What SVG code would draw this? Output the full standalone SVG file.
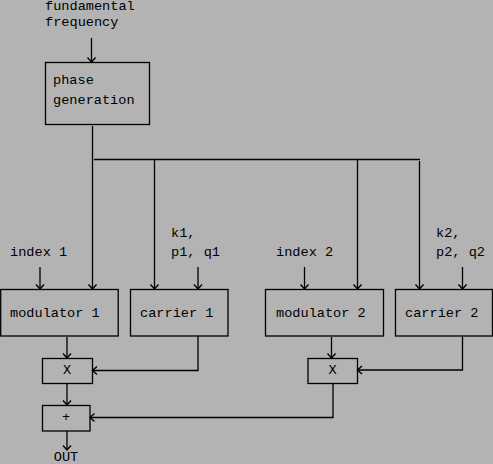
<svg xmlns="http://www.w3.org/2000/svg" width="493" height="464" viewBox="0 0 493 464">
<defs>
<marker id="ah" markerWidth="12" markerHeight="12" viewBox="-6 -6 12 12" refX="0" refY="0" orient="auto" markerUnits="userSpaceOnUse">
<polyline points="-4.5,-4 0,0 -4.5,4" fill="none" stroke="#000" stroke-width="1.4"/>
</marker>
<style>
.b{fill:none;stroke:#000;stroke-width:1.3}
.l{fill:none;stroke:#000;stroke-width:1.3}
.a{fill:none;stroke:#000;stroke-width:1.3;marker-end:url(#ah)}
text{font-family:"Liberation Mono","DejaVu Sans Mono",monospace;font-size:13.6px;fill:#000}
.c{text-anchor:middle}
</style>
</defs>
<rect width="493" height="464" fill="#b3b3b3"/>
<g id="labels">
<text x="45" y="10">fundamental</text>
<text x="45" y="26">frequency</text>
<text x="10" y="256">index 1</text>
<text x="171" y="237">k1,</text>
<text x="171" y="256">p1, q1</text>
<text x="276" y="256">index 2</text>
<text x="436" y="237">k2,</text>
<text x="436" y="256">p2, q2</text>
<text x="66" y="461" class="c">OUT</text>
</g>
<g id="phase">
<rect class="b" x="45.5" y="62.5" width="104" height="62"/>
<text x="53" y="84">phase</text>
<text x="53" y="104">generation</text>
</g>
<g id="mod1">
<rect class="b" x="0.7" y="289.5" width="117.5" height="46.5"/>
<text x="10" y="317">modulator 1</text>
</g>
<g id="car1">
<rect class="b" x="130.5" y="289.5" width="97.5" height="46.5"/>
<text x="140" y="317">carrier 1</text>
</g>
<g id="mod2">
<rect class="b" x="265.5" y="289.5" width="118" height="46.5"/>
<text x="276" y="317">modulator 2</text>
</g>
<g id="car2">
<rect class="b" x="395.5" y="289.5" width="97" height="46.5"/>
<text x="405" y="317">carrier 2</text>
</g>
<g id="mul1">
<rect class="b" x="42.5" y="358.5" width="50" height="25"/>
<text x="67" y="374" class="c">X</text>
</g>
<g id="mul2">
<rect class="b" x="308" y="358.5" width="49.5" height="25"/>
<text x="332.5" y="374" class="c">X</text>
</g>
<g id="add">
<rect class="b" x="42.5" y="405.5" width="47.5" height="25.5"/>
<text x="66" y="421" class="c">+</text>
</g>
<g id="connectors">
<line class="a" x1="91.5" y1="38" x2="91.5" y2="62"/>
<line class="a" x1="92.5" y1="126" x2="92.5" y2="289"/>
<line class="l" x1="94" y1="159.5" x2="420" y2="159.5"/>
<line class="a" x1="154.5" y1="159.5" x2="154.5" y2="289"/>
<line class="a" x1="357.5" y1="159.5" x2="357.5" y2="289"/>
<line class="a" x1="419.5" y1="161" x2="419.5" y2="289"/>
<line class="a" x1="40" y1="267" x2="40" y2="289"/>
<line class="a" x1="198" y1="267" x2="198" y2="289"/>
<line class="a" x1="304.5" y1="267" x2="304.5" y2="289"/>
<line class="a" x1="462.5" y1="267" x2="462.5" y2="289"/>
<line class="a" x1="67" y1="337" x2="67" y2="358"/>
<polyline class="a" points="198,336 198,370.5 92.5,370.5"/>
<line class="a" x1="331.5" y1="337" x2="331.5" y2="358"/>
<polyline class="a" points="462.5,336 462.5,370 357.5,370"/>
<line class="a" x1="67" y1="384" x2="67" y2="405"/>
<polyline class="a" points="333,384 333,417.5 90,417.5"/>
<line class="a" x1="67" y1="431" x2="67" y2="450"/>
</g>
</svg>
